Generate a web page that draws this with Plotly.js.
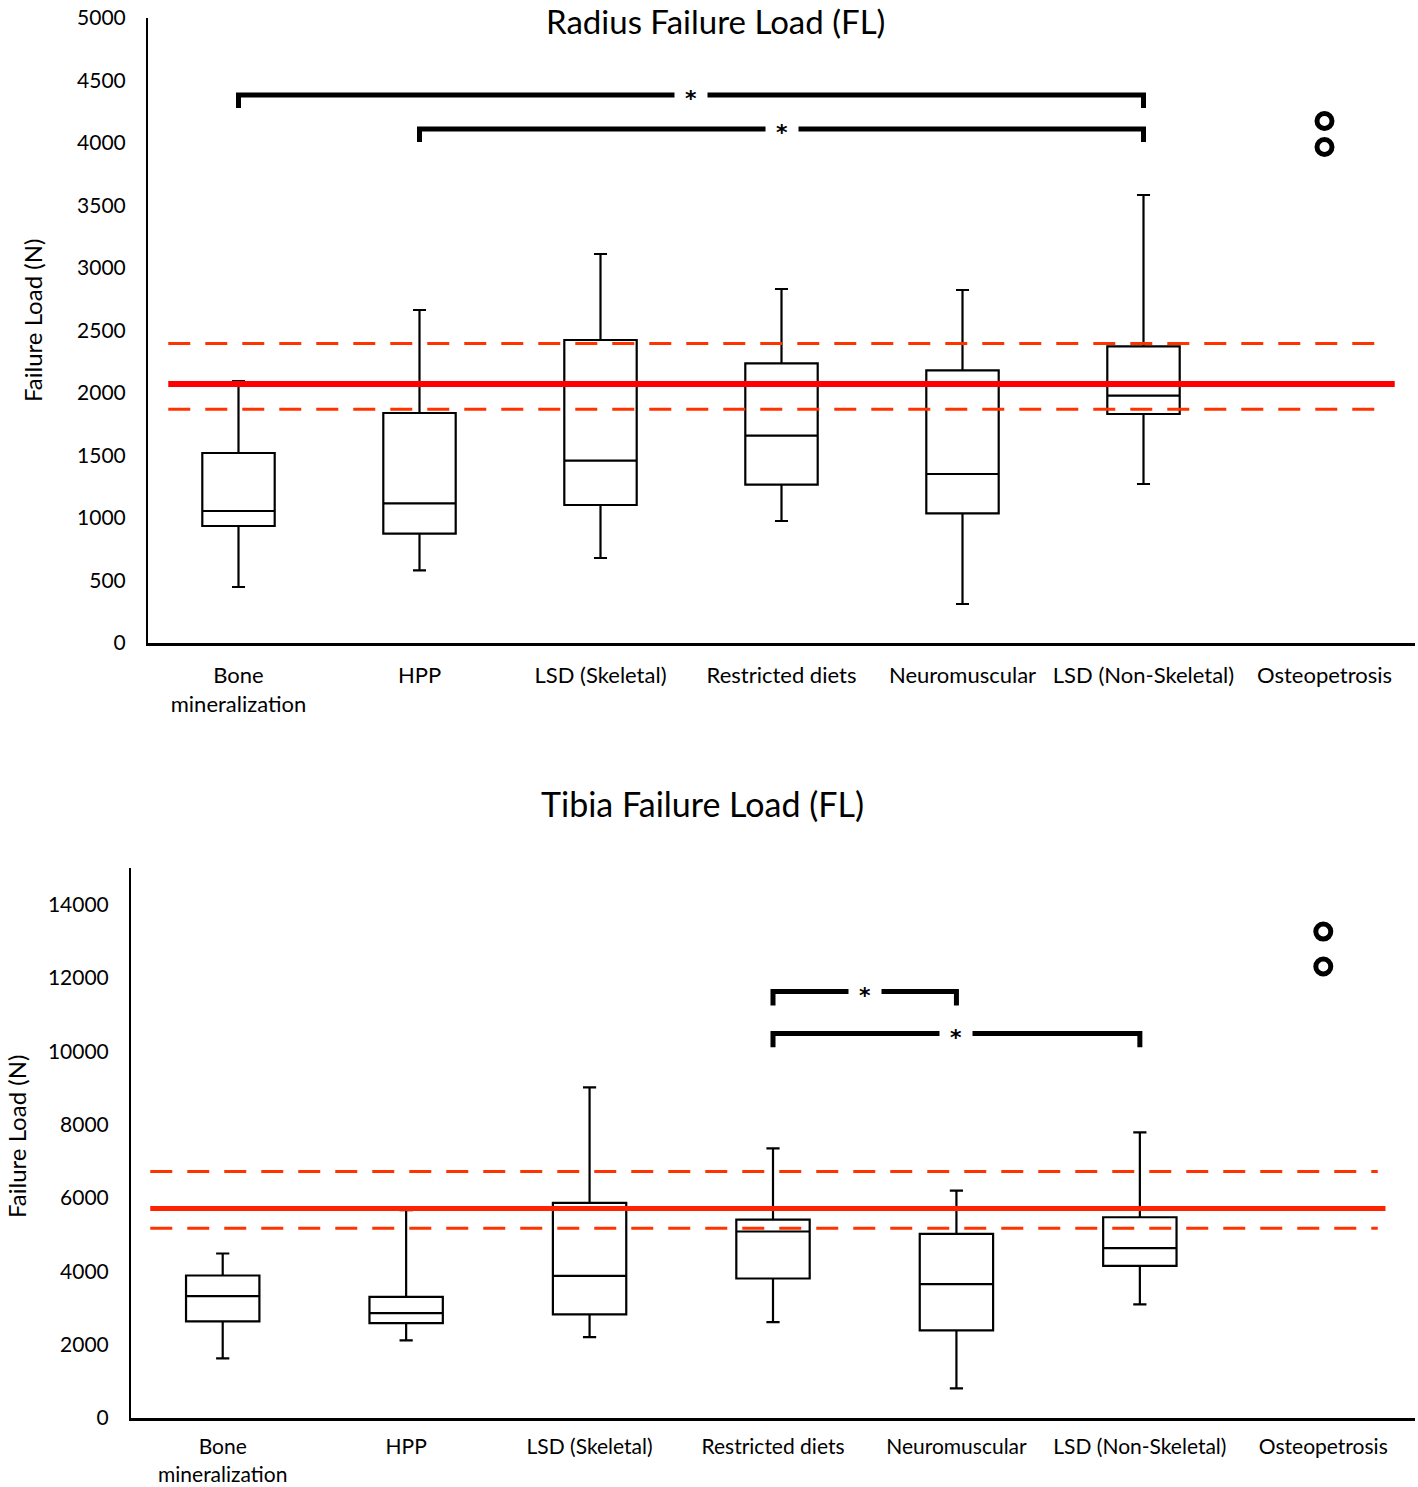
<!DOCTYPE html>
<html>
<head>
<meta charset="utf-8">
<script src="https://cdn.plot.ly/plotly-3.0.1.min.js"></script>
<style>html,body{margin:0;padding:0;background:#fff;}#chart{width:1418px;height:1487px;}</style>
</head>
<body>
<div id="chart"></div>
<script>
// ---------- data ----------
const categories = ['Bone<br>mineralization', 'HPP', 'LSD (Skeletal)', 'Restricted diets', 'Neuromuscular', 'LSD (Non-Skeletal)', 'Osteopetrosis'];
const boxCategories = categories.slice(0, 6);
const outlierCategory = 'Osteopetrosis';

// Radius failure load (N)
const radiusLower  = [448, 581, 680, 976, 312, 1272];
const radiusQ1     = [936, 875, 1104, 1267, 1037, 1832];
const radiusMedian = [1056, 1117, 1459, 1659, 1352, 1979];
const radiusQ3     = [1520, 1840, 2424, 2237, 2181, 2373];
const radiusUpper  = [2096, 2664, 3112, 2832, 2824, 3584];
const radiusOutliers = [4176, 3968];
const radiusMean = 2072;
const radiusRange = [1870, 2397];
const radiusSigFrom = ['Bone<br>mineralization', 'HPP'];
const radiusSigTo   = ['LSD (Non-Skeletal)', 'LSD (Non-Skeletal)'];
const radiusSigY    = [4384, 4112];

// Tibia failure load (N)
const tibiaLower  = [1626, 2117, 2206, 2615, 809, 3097];
const tibiaQ1     = [2634, 2588, 2824, 3805, 2389, 4149];
const tibiaMedian = [3323, 2860, 3876, 5086, 3650, 4631];
const tibiaQ3     = [3887, 3305, 5865, 5412, 5021, 5475];
const tibiaUpper  = [4486, 5666, 9017, 7355, 6202, 7791];
const tibiaOutliers = [13266, 12313];
const tibiaMean = 5712;
const tibiaRange = [5176, 6720];
const tibiaSigFrom = ['Restricted diets', 'Restricted diets'];
const tibiaSigTo   = ['Neuromuscular', 'LSD (Non-Skeletal)'];
const tibiaSigY    = [11632, 10488];

const yTitle = 'Failure Load (N)';
const radiusTitle = 'Radius Failure Load (FL)';
const tibiaTitle = 'Tibia Failure Load (FL)';

// ---------- build ----------
const FONT = 'Lato, "Open Sans", sans-serif';
const W = 1418, H = 1487;
const px = v => v / W;
const py = v => 1 - v / H;

function boxTrace(xa, ya, lo, q1, med, q3, hi) {
  return {
    type: 'box', xaxis: xa, yaxis: ya, x: boxCategories,
    lowerfence: lo, q1: q1, median: med, q3: q3, upperfence: hi,
    boxpoints: false, width: 0.4, whiskerwidth: 0.18,
    fillcolor: 'rgba(255,255,255,0)', line: {color: '#000', width: 2.2},
    showlegend: false, hoverinfo: 'skip'
  };
}
function outlierTrace(xa, ya, ys) {
  return {
    type: 'scatter', mode: 'markers', xaxis: xa, yaxis: ya,
    x: ys.map(() => outlierCategory), y: ys,
    marker: {symbol: 'circle-open', size: 15, color: '#000', line: {width: 5, color: '#000'}},
    showlegend: false, hoverinfo: 'skip'
  };
}
function bracketTraces(xa, ya, from, to, ys, depth) {
  return from.map((f, i) => ({
    type: 'scatter', mode: 'lines', xaxis: xa, yaxis: ya,
    x: [f, f, to[i], to[i]], y: [ys[i] - depth, ys[i], ys[i], ys[i] - depth],
    line: {color: '#000', width: 5}, showlegend: false, hoverinfo: 'skip'
  }));
}
function starAnnotations(xa, ya, from, to, ys) {
  return from.map((f, i) => {
    const a = categories.indexOf(f), b = categories.indexOf(to[i]);
    return {
      xref: xa, yref: ya, x: (a + b) / 2, y: ys[i], text: '<b>*</b>', showarrow: false,
      font: {family: '"DejaVu Sans", sans-serif', size: 22, color: '#000'}, bgcolor: '#fff', borderpad: 10,
      yanchor: 'middle', yshift: -4
    };
  });
}
function refShapes(xa, ya, mean, range, x0, x1s, x1d, wSolid, solidColor) {
  const s = [{type: 'line', xref: xa + ' domain', yref: ya, x0: x0, x1: x1s, y0: mean, y1: mean,
              line: {color: solidColor, width: wSolid}}];
  range.forEach(v => s.push({type: 'line', xref: xa + ' domain', yref: ya, x0: x0, x1: x1d, y0: v, y1: v,
              line: {color: '#ff3300', width: 3, dash: '22px,15px'}}));
  return s;
}

const data = [
  boxTrace('x', 'y', radiusLower, radiusQ1, radiusMedian, radiusQ3, radiusUpper),
  outlierTrace('x', 'y', radiusOutliers),
  ...bracketTraces('x', 'y', radiusSigFrom, radiusSigTo, radiusSigY, 104),
  boxTrace('x2', 'y2', tibiaLower, tibiaQ1, tibiaMedian, tibiaQ3, tibiaUpper),
  outlierTrace('x2', 'y2', tibiaOutliers),
  ...bracketTraces('x2', 'y2', tibiaSigFrom, tibiaSigTo, tibiaSigY, 380)
];

const xCommon = {
  type: 'category', categoryorder: 'array', categoryarray: categories, range: [-0.5, 6.5],
  showline: true, linecolor: '#000', linewidth: 3, showgrid: false, zeroline: false,
  ticks: '', tickfont: {family: FONT, size: 22, color: '#000'}, ticklabelstandoff: 11, fixedrange: true
};
const yCommon = {
  showline: true, linecolor: '#000', linewidth: 2, showgrid: false, zeroline: false,
  ticks: '', tickfont: {family: FONT, size: 21, color: '#000'}, ticklabelstandoff: 16, fixedrange: true,
  tickformat: 'd'
};

const layout = {
  width: W, height: H, margin: {l: 0, r: 0, t: 0, b: 0},
  paper_bgcolor: '#fff', plot_bgcolor: '#fff', showlegend: false,
  xaxis: Object.assign({}, xCommon, {domain: [px(148), px(1415)], anchor: 'y'}),
  yaxis: Object.assign({}, yCommon, {domain: [py(643), py(18)], range: [0, 5000], dtick: 500, anchor: 'x'}),
  xaxis2: Object.assign({}, xCommon, {domain: [px(131), px(1415)], anchor: 'y2', ticklabelstandoff: 8,
    tickfont: {family: FONT, size: 21, color: '#000'}}),
  yaxis2: Object.assign({}, yCommon, {domain: [py(1418), py(868)], range: [0, 15000], dtick: 2000, anchor: 'x2'}),
  shapes: [
    ...refShapes('x', 'y', radiusMean, radiusRange, 0.016, 0.984, 0.977, 6, '#ff0000'),
    ...refShapes('x2', 'y2', tibiaMean, tibiaRange, 0.015, 0.977, 0.971, 5, '#ff2200')
  ],
  annotations: [
    {xref: 'paper', yref: 'paper', x: px(715), y: py(21), text: radiusTitle, showarrow: false,
     font: {family: FONT, size: 33, color: '#000'}, xanchor: 'center', yanchor: 'middle'},
    {xref: 'paper', yref: 'paper', x: px(702), y: py(803), text: tibiaTitle, showarrow: false,
     font: {family: FONT, size: 34, color: '#000'}, xanchor: 'center', yanchor: 'middle'},
    {xref: 'paper', yref: 'paper', x: px(33), y: py(321), text: yTitle, textangle: -90, showarrow: false,
     font: {family: FONT, size: 24, color: '#000'}, xanchor: 'center', yanchor: 'middle'},
    {xref: 'paper', yref: 'paper', x: px(16), y: py(1137), text: yTitle, textangle: -90, showarrow: false,
     font: {family: FONT, size: 24, color: '#000'}, xanchor: 'center', yanchor: 'middle'},
    ...starAnnotations('x', 'y', radiusSigFrom, radiusSigTo, radiusSigY),
    ...starAnnotations('x2', 'y2', tibiaSigFrom, tibiaSigTo, tibiaSigY)
  ]
};

Plotly.newPlot('chart', data, layout, {displayModeBar: false, staticPlot: true});
</script>
</body>
</html>
